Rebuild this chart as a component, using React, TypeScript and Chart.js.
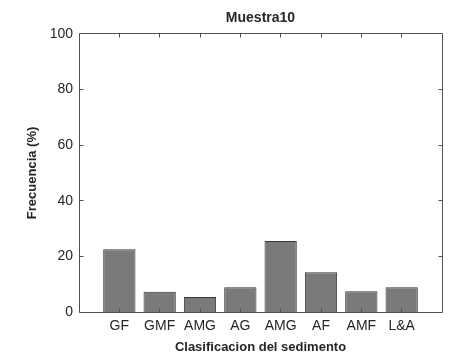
import React, { useEffect, useRef } from 'react';
import { Chart, registerables } from 'chart.js';

Chart.register(...registerables);

const categories = ['GF', 'GMF', 'AMG', 'AG', 'AMG', 'AF', 'AMF', 'L&A'];
const frequencies = [22.6, 7.3, 5.4, 8.9, 25.5, 14.3, 7.5, 8.9];
const yTicks = [0, 20, 40, 60, 80, 100];
const titleText = 'Muestra10';
const xLabel = 'Clasificacion del sedimento';
const yLabel = 'Frecuencia (%)';

const FONT = "'Liberation Sans', Arial, Helvetica, sans-serif";
const TEXT = '#262626';
const FRAME = '#505050';

const framePlugin = {
  id: 'matlabFrame',
  afterDraw(chart: any) {
    const { ctx, chartArea: a, scales } = chart;
    const xs = scales.x;
    const ys = scales.y;
    const tl = 4;
    const L = Math.floor(a.left) + 0.5;
    const R = Math.floor(a.right) + 0.5;
    const T = Math.floor(a.top) + 0.5;
    const B = Math.floor(a.bottom) + 0.5;
    ctx.save();
    ctx.strokeStyle = FRAME;
    ctx.lineWidth = 1;
    ctx.beginPath();
    ctx.rect(L, T, R - L, B - T);
    categories.forEach((_, i) => {
      const px = Math.floor(xs.getPixelForValue(i + 1)) + 0.5;
      ctx.moveTo(px, B);
      ctx.lineTo(px, B - tl);
      ctx.moveTo(px, T);
      ctx.lineTo(px, T + tl);
    });
    yTicks.forEach((v) => {
      const py = Math.floor(ys.getPixelForValue(v)) + 0.5;
      ctx.moveTo(L, py);
      ctx.lineTo(L + tl, py);
      ctx.moveTo(R, py);
      ctx.lineTo(R - tl, py);
    });
    ctx.stroke();
    ctx.restore();
  },
};

export default function App() {
  const ref = useRef<HTMLCanvasElement>(null);

  useEffect(() => {
    if (!ref.current) return;
    const chart = new Chart(ref.current, {
      type: 'bar',
      data: {
        datasets: [
          {
            label: yLabel,
            data: frequencies.map((v, i) => ({ x: i + 1, y: v })),
            backgroundColor: '#7a7a7a',
            borderColor: '#363636',
            borderWidth: 1,
            barPercentage: 0.8,
            categoryPercentage: 1,
          },
        ],
      },
      plugins: [framePlugin],
      options: {
        responsive: false,
        animation: false,
        layout: { padding: { left: 0, right: 8, top: 0, bottom: 0 } },
        plugins: {
          legend: { display: false },
          tooltip: { enabled: false },
          title: {
            display: true,
            text: titleText,
            fullSize: false,
            color: TEXT,
            font: { family: FONT, size: 14, weight: 'bold', lineHeight: 1.2 },
            padding: { top: 10, bottom: 7 },
          },
        },
        scales: {
          x: {
            type: 'linear',
            min: 0,
            max: 9,
            offset: false,
            grid: { display: false, drawTicks: false, offset: false },
            border: { display: false },
            afterFit: (s: any) => {
              s.height = 40;
            },
            afterBuildTicks: (s: any) => {
              s.ticks = Array.from({ length: 10 }, (_, i) => ({ value: i }));
            },
            ticks: {
              autoSkip: false,
              maxRotation: 0,
              padding: 6,
              color: TEXT,
              font: { family: FONT, size: 14 },
              callback: (v: any) => {
                const i = Number(v);
                return i >= 1 && i <= categories.length ? categories[i - 1] : '';
              },
            },
            title: {
              display: true,
              text: xLabel,
              color: TEXT,
              font: { family: FONT, size: 13, weight: 'bold', lineHeight: 1 },
              padding: { top: 0, bottom: -2 },
            },
          },
          y: {
            min: 0,
            max: 100,
            grid: { display: false, drawTicks: false },
            border: { display: false },
            afterFit: (s: any) => {
              s.width = 79;
            },
            afterBuildTicks: (s: any) => {
              s.ticks = yTicks.map((v) => ({ value: v }));
            },
            ticks: {
              padding: 6,
              color: TEXT,
              font: { family: FONT, size: 14 },
            },
            title: {
              display: true,
              text: yLabel,
              color: TEXT,
              font: { family: FONT, size: 13, weight: 'bold', lineHeight: 1.2 },
              padding: { top: 25, bottom: 0 },
            },
          },
        },
      },
    });
    return () => chart.destroy();
  }, []);

  return (
    <div style={{ position: 'fixed', left: 0, top: 0, width: 450, height: 352, background: '#fff' }}>
      <canvas ref={ref} width={450} height={352} style={{ width: 450, height: 352 }} />
    </div>
  );
}
